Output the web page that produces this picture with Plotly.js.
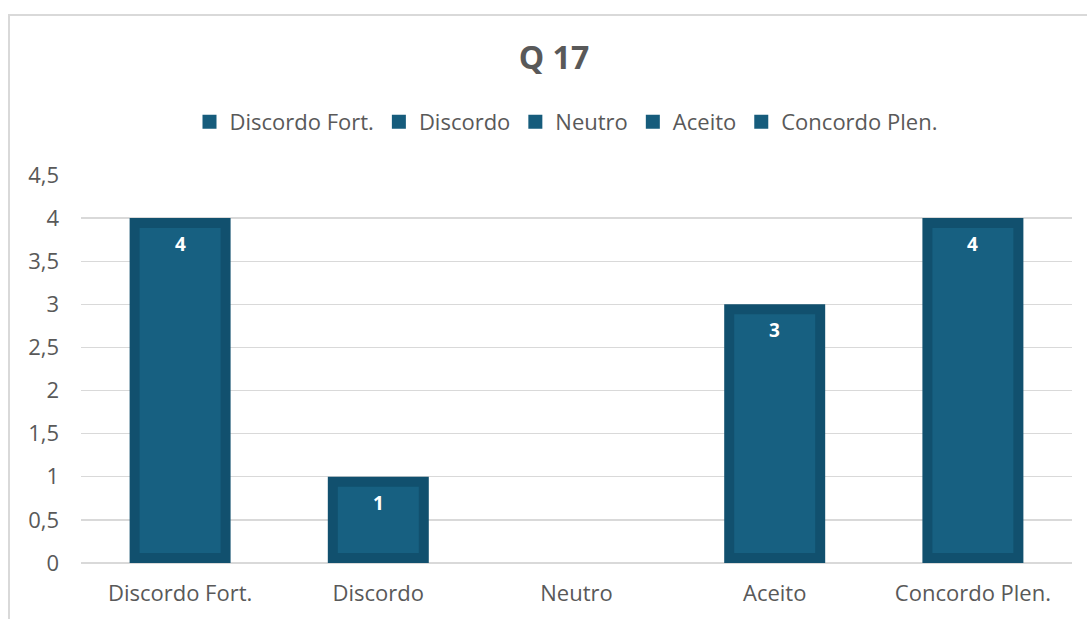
<!DOCTYPE html>
<html>
<head>
<meta charset="utf-8">
<script src="https://cdn.plot.ly/plotly-3.0.1.min.js"></script>
<style>
  html, body { margin: 0; padding: 0; background: #ffffff; }
  #frame { position: absolute; left: 8px; top: 14px; width: 1079px; height: 605px;
           border-left: 2px solid #d9d9d9; border-top: 2px solid #d9d9d9; box-sizing: border-box; }
  #chart { position: absolute; left: 0; top: 0; width: 1087px; height: 619px; }
</style>
</head>
<body>
<div id="frame"></div>
<div id="chart"></div>
<script>
const chartTitle = 'Q 17';
const categories = ['Discordo Fort.', 'Discordo', 'Neutro', 'Aceito', 'Concordo Plen.'];
const counts = [4, 1, 0, 3, 4];
const yTicks = [0, 0.5, 1, 1.5, 2, 2.5, 3, 3.5, 4, 4.5];

const fillColor = '#176081';
const edgeColor = '#11506e';
const legendColor = '#165c7c';
const textColor = '#595959';
const fontFam = '"Open Sans", "Liberation Sans", sans-serif';

// geometry of the inset border (style only): the stroke is kept inside the bar
const yMax = 4.5;
const plotTop = 174.5, plotBottom = 55.5, H = 619;
const pxPerUnit = (H - plotTop - plotBottom) / yMax;
const borderPx = 10;
const half = (borderPx / 2) / pxPerUnit;   // half border, in data units

const barTraces = categories.map((c, i) => ({
  type: 'bar',
  name: c,
  x: [c],
  y: [counts[i] > 0 ? counts[i] - 2 * half : null],
  base: [half],
  width: 0.459,
  marker: { color: fillColor, line: { color: edgeColor, width: borderPx } },
  showlegend: false,
  hoverinfo: 'skip'
}));

// legend entries (solid squares like the reference)
const legendTraces = categories.map((c) => ({
  type: 'scatter', mode: 'markers',
  name: c, x: [null], y: [null],
  marker: { symbol: 'square', size: 14, color: legendColor, line: { width: 0 } },
  showlegend: true
}));

const annotations = categories.map((c, i) => counts[i] > 0 ? {
  x: c, y: counts[i], xref: 'x', yref: 'y',
  text: String(counts[i]), showarrow: false,
  yanchor: 'middle', yshift: -26,
  font: { family: fontFam, size: 19, color: '#ffffff', weight: 'bold' }
} : null).filter(a => a);

const tickFont = { family: fontFam, size: 22, color: textColor };

const layout = {
  width: 1087, height: 619,
  paper_bgcolor: 'rgba(0,0,0,0)',
  plot_bgcolor: 'rgba(0,0,0,0)',
  separators: ',.',
  barmode: 'overlay',
  margin: { l: 81, r: 15, t: plotTop, b: plotBottom },
  title: {
    text: '<b>' + chartTitle + '</b>',
    x: 554 / 1087, xref: 'container', xanchor: 'center',
    y: 1 - 58 / 619, yref: 'container', yanchor: 'middle',
    font: { family: fontFam, size: 32, color: textColor }
  },
  showlegend: true,
  legend: {
    orientation: 'h', x: 566 / 1087, xref: 'container', xanchor: 'center',
    y: 1 - 122 / 619, yref: 'container', yanchor: 'middle',
    font: { family: fontFam, size: 22, color: textColor },
    itemwidth: 30, itemclick: false, itemdoubleclick: false
  },
  xaxis: {
    type: 'category', categoryorder: 'array', categoryarray: categories,
    range: [-0.5, categories.length - 0.5],
    showgrid: false, showline: false, zeroline: false, ticks: '',
    ticklabelstandoff: 15,
    tickfont: tickFont
  },
  yaxis: {
    range: [0, yMax], tickmode: 'array', tickvals: yTicks,
    showgrid: true, gridcolor: '#d9d9d9', gridwidth: 1.3,
    zeroline: true, zerolinecolor: '#d9d9d9', zerolinewidth: 1.3,
    showline: false, ticks: '', ticklabelstandoff: 21,
    tickfont: tickFont
  },
  annotations: annotations
};

Plotly.newPlot('chart', barTraces.concat(legendTraces), layout, { displayModeBar: false, staticPlot: true });
</script>
</body>
</html>
